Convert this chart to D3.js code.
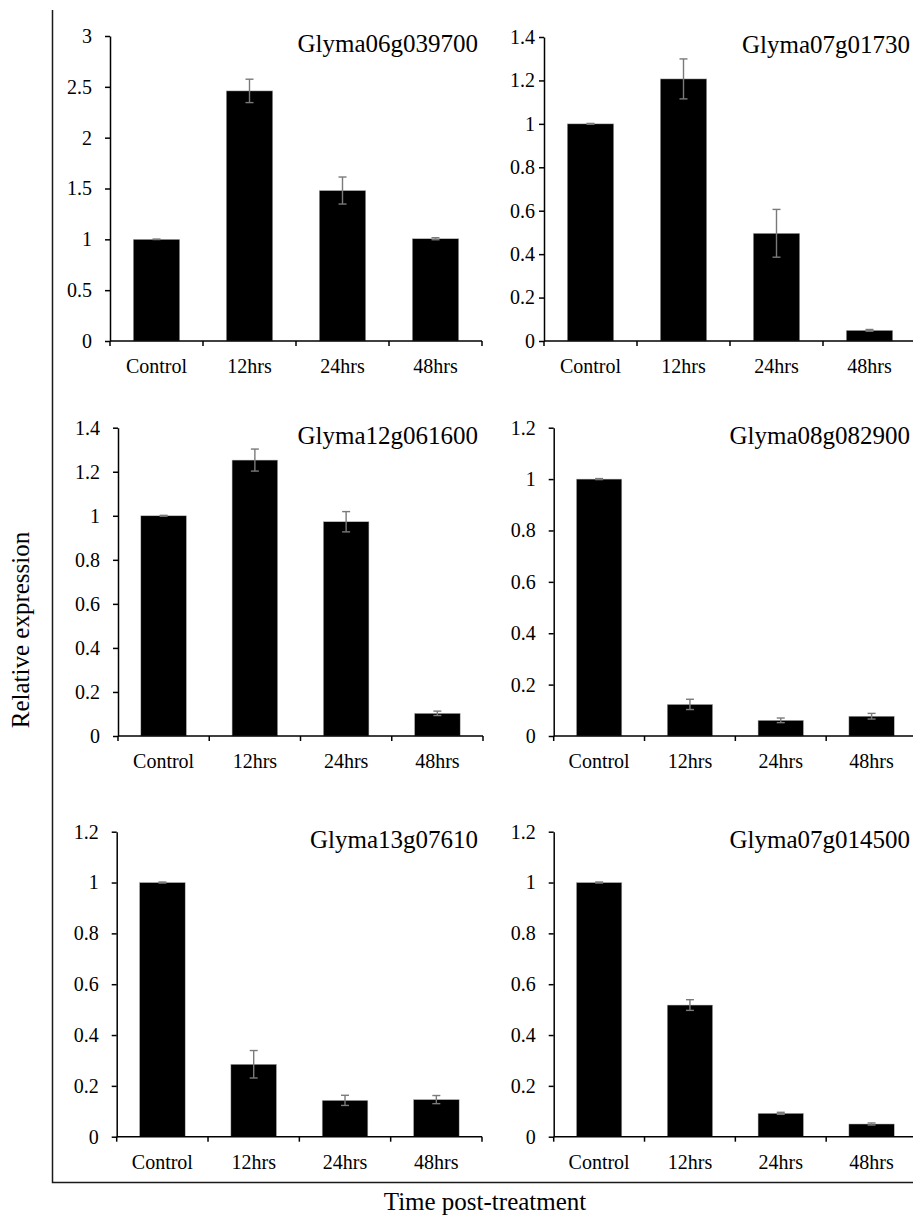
<!DOCTYPE html>
<html>
<head>
<meta charset="utf-8">
<script src="https://cdn.jsdelivr.net/npm/d3@7"></script>
<style>
  body { margin: 0; background: #fff; }
</style>
</head>
<body>
<div id="playground"></div>
<script>
// categories on every x axis
var categories = ['Control', '12hrs', '24hrs', '48hrs'];

// gene names (panel titles)
var genes = ['Glyma06g039700', 'Glyma07g01730', 'Glyma12g061600',
             'Glyma08g082900', 'Glyma13g07610', 'Glyma07g014500'];

// relative expression, one array per gene
var g06g039700 = [1.0, 2.46, 1.48, 1.006];
var g07g01730  = [1.0, 1.207, 0.496, 0.049];
var g12g061600 = [1.0, 1.253, 0.973, 0.103];
var g08g082900 = [1.0, 0.123, 0.061, 0.077];
var g13g07610  = [1.0, 0.285, 0.143, 0.146];
var g07g014500 = [1.0, 0.518, 0.092, 0.05];

// error bars (+/-)
var e06g039700 = [0.002, 0.115, 0.133, 0.01];
var e07g01730  = [0.002, 0.092, 0.11, 0.004];
var e12g061600 = [0.002, 0.05, 0.046, 0.01];
var e08g082900 = [0.002, 0.02, 0.009, 0.011];
var e13g07610  = [0.002, 0.054, 0.02, 0.016];
var e07g014500 = [0.002, 0.021, 0.004, 0.004];

// y axis max and tick step
var yMax  = [3, 1.4, 1.4, 1.2, 1.2, 1.2];
var yStep = [0.5, 0.2, 0.2, 0.2, 0.2, 0.2];

var values = [g06g039700, g07g01730, g12g061600, g08g082900, g13g07610, g07g014500];
var errors = [e06g039700, e07g01730, e12g061600, e08g082900, e13g07610, e07g014500];

// panel boxes in pixels (layout only)
var layout = [
  {x0: 110,   x1: 482, yTop: 36,    y0: 341,    pad: 13, tx: 478},
  {x0: 544,   x1: 916, yTop: 37,    y0: 341,    pad: 4,  tx: 910},
  {x0: 118,   x1: 483, yTop: 427.7, y0: 736,    pad: 13, tx: 478},
  {x0: 553.7, x1: 917, yTop: 427.7, y0: 736,    pad: 13, tx: 910},
  {x0: 116.7, x1: 482, yTop: 831.7, y0: 1136.7, pad: 13, tx: 478},
  {x0: 553.7, x1: 917, yTop: 831.7, y0: 1136.7, pad: 13, tx: 910}
];

var FONT = '"Liberation Serif", "Times New Roman", Times, "DejaVu Serif", serif';

var svg = d3.select('#playground')
  .append('svg')
    .attr('width', 913)
    .attr('height', 1222);

// outer frame (left + bottom)
svg.append('path')
  .attr('d', 'M52.5,10V1182.5H913')
  .attr('fill', 'none')
  .attr('stroke', '#1a1a1a')
  .attr('stroke-width', 1.5);

svg.append('text')
  .attr('transform', 'translate(29,630) rotate(-90)')
  .attr('text-anchor', 'middle')
  .style('font-size', '25px')
  .text('Relative expression');

svg.append('text')
  .attr('x', 485)
  .attr('y', 1210)
  .attr('text-anchor', 'middle')
  .style('font-size', '25px')
  .text('Time post-treatment');

function fmt(d) { return String(+d.toFixed(1)); }

genes.forEach(function(gene, i) {
  var L = layout[i];
  var g = svg.append('g');

  var x = d3.scaleBand()
    .domain(categories)
    .range([L.x0, L.x1])
    .paddingInner(0.5)
    .paddingOuter(0.25);

  var y = d3.scaleLinear()
    .domain([0, yMax[i]])
    .range([L.y0, L.yTop]);

  var rows = categories.map(function(c, j) {
    return {cat: c, v: values[i][j], e: errors[i][j]};
  });

  // bars
  g.selectAll('rect.bar')
    .data(rows)
    .enter()
      .append('rect')
        .attr('class', 'bar')
        .attr('x', function(d) { return x(d.cat); })
        .attr('width', x.bandwidth())
        .attr('y', function(d) { return y(d.v); })
        .attr('height', function(d) { return y(0) - y(d.v); })
        .attr('fill', '#000')
        .attr('stroke', '#bbb')
        .attr('stroke-width', 0.5);

  // error bars
  var eb = g.selectAll('g.err')
    .data(rows)
    .enter()
      .append('g')
        .attr('class', 'err')
        .attr('stroke', '#7a7a7a')
        .attr('stroke-width', 1.4);
  eb.append('line')
    .attr('x1', function(d) { return x(d.cat) + x.bandwidth() / 2; })
    .attr('x2', function(d) { return x(d.cat) + x.bandwidth() / 2; })
    .attr('y1', function(d) { return y(d.v - d.e); })
    .attr('y2', function(d) { return y(d.v + d.e); });
  [1, -1].forEach(function(s) {
    eb.append('line')
      .attr('x1', function(d) { return x(d.cat) + x.bandwidth() / 2 - 4; })
      .attr('x2', function(d) { return x(d.cat) + x.bandwidth() / 2 + 4; })
      .attr('y1', function(d) { return y(d.v + s * d.e); })
      .attr('y2', function(d) { return y(d.v + s * d.e); });
  });

  // y axis
  var ticks = d3.range(0, yMax[i] + yStep[i] / 2, yStep[i]);
  var ya = g.append('g')
    .attr('transform', 'translate(' + L.x0 + ',0)')
    .call(d3.axisLeft(y).tickValues(ticks).tickFormat(fmt).tickSize(5).tickSizeOuter(0).tickPadding(L.pad));
  ya.selectAll('text').style('font-size', '20px');

  // x axis: labels at band centres, ticks at boundaries
  var xa = g.append('g')
    .attr('transform', 'translate(0,' + L.y0 + ')')
    .call(d3.axisBottom(x).tickSize(0).tickPadding(18));
  xa.selectAll('text').style('font-size', '20px');
  xa.select('.domain').remove();
  xa.append('line')
    .attr('x1', L.x0).attr('x2', L.x1)
    .attr('stroke', '#000').attr('stroke-width', 1.5);
  xa.selectAll('line.bound')
    .data(d3.range(categories.length + 1))
    .enter()
      .append('line')
        .attr('class', 'bound')
        .attr('x1', function(k) { return L.x0 + k * x.step(); })
        .attr('x2', function(k) { return L.x0 + k * x.step(); })
        .attr('y1', 0).attr('y2', 5)
        .attr('stroke', '#000').attr('stroke-width', 1.5);

  ya.selectAll('path, line').attr('stroke', '#000').attr('stroke-width', 1.5);

  // title
  g.append('text')
    .attr('x', L.tx)
    .attr('y', L.yTop + 16)
    .attr('text-anchor', 'end')
    .style('font-size', '25px')
    .text(gene);
});

// serif everywhere, set on each text so the axis default does not win
svg.selectAll('g').attr('font-family', null);
svg.selectAll('text')
  .style('font-family', FONT)
  .style('fill', '#000');
</script>
</body>
</html>
